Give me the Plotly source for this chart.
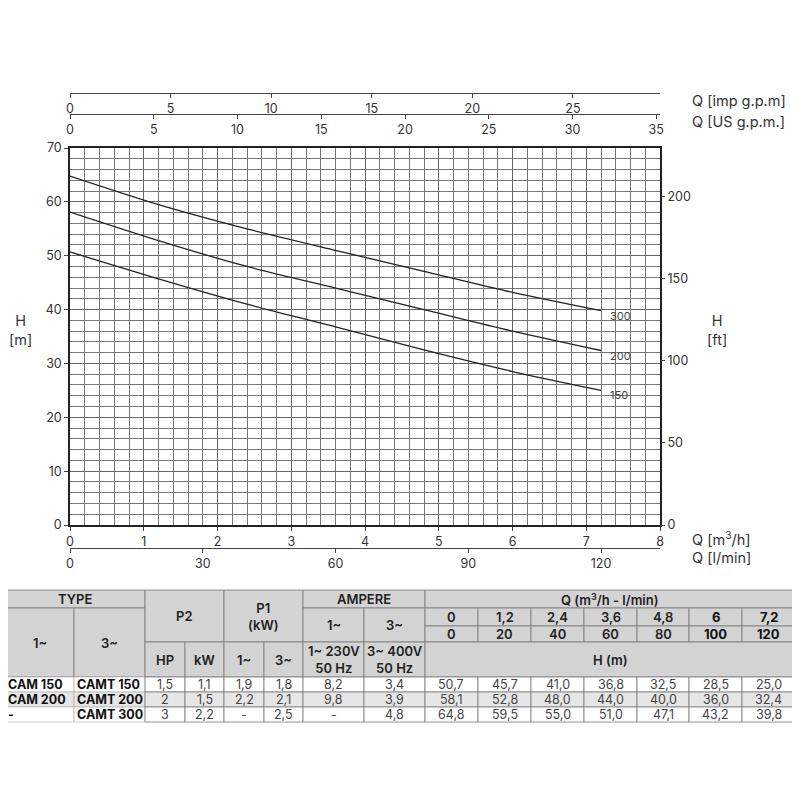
import plotly.graph_objects as go

# ---------------- data ----------------
q_m3h = [0, 1.2, 2.4, 3.6, 4.8, 6, 7.2]
q_lmin = [0, 20, 40, 60, 80, 100, 120]
q_m3h_labels = ["0", "1,2", "2,4", "3,6", "4,8", "6", "7,2"]
q_lmin_labels = ["0", "20", "40", "60", "80", "100", "120"]
h_150 = [50.7, 45.7, 41.0, 36.8, 32.5, 28.5, 25.0]
h_200 = [58.1, 52.8, 48.0, 44.0, 40.0, 36.0, 32.4]
h_300 = [64.8, 59.5, 55.0, 51.0, 47.1, 43.2, 39.8]
curve_names = ["150", "200", "300"]

type_1ph = ["CAM 150", "CAM 200", "-"]
type_3ph = ["CAMT 150", "CAMT 200", "CAMT 300"]
p2_hp = ["1,5", "2", "3"]
p2_kw = ["1,1", "1,5", "2,2"]
p1_1ph = ["1,9", "2,2", "-"]
p1_3ph = ["1,8", "2,1", "2,5"]
amp_1ph = ["8,2", "9,8", "-"]
amp_3ph = ["3,4", "3,9", "4,8"]

imp_ticks = [0, 5, 10, 15, 20, 25]
us_ticks = [0, 5, 10, 15, 20, 25, 30, 35]
lmin_ticks = [0, 30, 60, 90, 120]
ft_ticks = [0, 50, 100, 150, 200]

M3H_MAX = 8
H_MAX = 70
IMP_PER_M3H = 1000 / 60 / 4.54609
US_PER_M3H = 1000 / 60 / 3.785411784
LMIN_PER_M3H = 1000 / 60
FT_PER_M = 3.28084

W = H = 800
OFF = 8  # page body margin
FONT = "Inter, Liberation Sans, Arial, sans-serif"
TXT = "#333333"


def px(x):
    return (x - OFF) / W


def py(y):
    return 1 - (y - OFF) / H


fig = go.Figure()

series = [h_150, h_200, h_300]
for name, hv in zip(curve_names, series):
    fig.add_trace(go.Scatter(x=q_m3h, y=hv, mode="lines",
                             line=dict(color="#222222", width=1.3, shape="spline", smoothing=0.8),
                             showlegend=False, hoverinfo="skip", xaxis="x", yaxis="y"))
    fig.add_annotation(x=q_m3h[-1], y=hv[-1], xref="x", yref="y", text=name, showarrow=False,
                       xanchor="left", yanchor="middle", xshift=7, yshift=-5,
                       font=dict(family=FONT, size=11, color="#444"))

# invisible traces to activate secondary axes
for xa, ya in [("x2", "y"), ("x3", "y"), ("x4", "y"), ("x", "y2")]:
    fig.add_trace(go.Scatter(x=[0], y=[0], xaxis=xa, yaxis=ya, mode="markers", marker=dict(opacity=0),
                             showlegend=False, hoverinfo="skip"))

tickfont = dict(family=FONT, size=12.5, color=TXT)
dom_x = [px(70), px(660)]
dom_y = [py(525), py(148)]

common_free = dict(showgrid=False, zeroline=False, showline=True, linecolor="#444", linewidth=1.2,
                   ticks="outside", ticklen=4, tickcolor="#444", tickfont=tickfont, automargin=False)

fig.update_layout(
    width=W, height=H, margin=dict(l=0, r=0, t=0, b=0),
    paper_bgcolor="white", plot_bgcolor="white", template="none",
    xaxis=dict(domain=dom_x, range=[0, M3H_MAX], dtick=1, tick0=0, showgrid=True, gridcolor="#666", gridwidth=0.8,
               minor=dict(dtick=0.2, showgrid=True, gridcolor="#777", gridwidth=0.7),
               showline=True, linecolor="#222", linewidth=1.5, mirror=True, ticks="outside", ticklen=4,
               tickcolor="#444", tickfont=tickfont, zeroline=False, automargin=False, anchor="y"),
    yaxis=dict(domain=dom_y, range=[0, H_MAX], dtick=10, tick0=0, showgrid=True, gridcolor="#666", gridwidth=0.8,
               minor=dict(dtick=2, showgrid=True, gridcolor="#777", gridwidth=0.7),
               showline=True, linecolor="#222", linewidth=1.5, mirror=True, ticks="outside", ticklen=4,
               tickcolor="#444", tickfont=tickfont, zeroline=False, automargin=False, anchor="x"),
    xaxis2=dict(overlaying="x", anchor="free", position=py(93), side="bottom",
                range=[0, M3H_MAX * IMP_PER_M3H], tickvals=imp_ticks, **common_free),
    xaxis3=dict(overlaying="x", anchor="free", position=py(114), side="bottom",
                range=[0, M3H_MAX * US_PER_M3H], tickvals=us_ticks, **common_free),
    xaxis4=dict(overlaying="x", anchor="free", position=py(548), side="bottom",
                range=[0, M3H_MAX * LMIN_PER_M3H], tickvals=lmin_ticks, **common_free),
    yaxis2=dict(overlaying="y", side="right", anchor="x", range=[0, H_MAX * FT_PER_M], tickvals=ft_ticks,
                showgrid=False, zeroline=False, showline=False, ticks="outside", ticklen=4, tickcolor="#444",
                tickfont=tickfont, automargin=False),
)

lab = dict(family=FONT, size=14.5, color=TXT)


def ann(x, y, text, font=lab, xanchor="left", yanchor="middle", align="left"):
    fig.add_annotation(x=px(x), y=py(y), xref="paper", yref="paper", text=text, showarrow=False,
                       xanchor=xanchor, yanchor=yanchor, align=align, font=font)


ann(690, 101, "Q [imp g.p.m]")
ann(690, 122, "Q [US g.p.m.]")
ann(690, 538, "Q [m<sup>3</sup>/h]")
ann(690, 557, "Q [l/min]")
ann(20, 330, "H<br>[m]", xanchor="center", align="center")
ann(717, 330, "H<br>[ft]", xanchor="center", align="center")

# ---------------- table ----------------
GREY = "#d3d3d3"
LIGHT = "#e6e6e6"
BORDER = "#7a7a7a"
hfont = dict(family=FONT, size=13, color="#222", weight=600)
qbold = dict(family=FONT, size=13, color="#111", weight=700)
bfont = dict(family=FONT, size=12.5, color="#111", weight=700)
vfont = dict(family=FONT, size=12.5, color="#444")


def cell(x0, x1, y0, y1, text="", fill=GREY, font=hfont):
    fig.add_shape(type="rect", xref="paper", yref="paper", x0=px(x0), x1=px(x1), y0=py(y1), y1=py(y0),
                  fillcolor=fill, line=dict(color=BORDER, width=0.8), layer="below")
    if text:
        fig.add_annotation(x=px((x0 + x1) / 2), y=py((y0 + y1) / 2), xref="paper", yref="paper", text=text,
                           showarrow=False, xanchor="center", yanchor="middle", align="center", font=font)


def lcell(x0, x1, y0, y1, text, fill, font):
    fig.add_shape(type="rect", xref="paper", yref="paper", x0=px(x0), x1=px(x1), y0=py(y1), y1=py(y0),
                  fillcolor=fill, line=dict(color="#aaaaaa", width=0.6), layer="below")
    fig.add_annotation(x=px(x0 + 1), y=py((y0 + y1) / 2), xref="paper", yref="paper", text=text,
                       showarrow=False, xanchor="left", yanchor="middle", font=font)


cx = [5, 74, 145, 185, 224, 264, 303, 364, 425, 478, 531, 584, 637, 689, 742, 795]
ry = [590, 608, 626, 642, 677, 692, 707, 722]

cell(cx[0], cx[2], ry[0], ry[1], "TYPE")
cell(cx[0], cx[1], ry[1], ry[4], "1~")
cell(cx[1], cx[2], ry[1], ry[4], "3~")
cell(cx[2], cx[4], ry[0], ry[3], "P2")
cell(cx[2], cx[3], ry[3], ry[4], "HP")
cell(cx[3], cx[4], ry[3], ry[4], "kW")
cell(cx[4], cx[6], ry[0], ry[3], "P1<br>(kW)")
cell(cx[4], cx[5], ry[3], ry[4], "1~")
cell(cx[5], cx[6], ry[3], ry[4], "3~")
cell(cx[6], cx[8], ry[0], ry[1], "AMPERE")
cell(cx[6], cx[7], ry[1], ry[3], "1~")
cell(cx[7], cx[8], ry[1], ry[3], "3~")
cell(cx[6], cx[7], ry[3], ry[4], "1~ 230V<br>50 Hz")
cell(cx[7], cx[8], ry[3], ry[4], "3~ 400V<br>50 Hz")
cell(cx[8], cx[15], ry[0], ry[1], "Q (m<sup>3</sup>/h - l/min)")
for i in range(7):
    f = qbold if i >= 5 else hfont
    cell(cx[8 + i], cx[9 + i], ry[1], ry[2], q_m3h_labels[i], font=f)
    cell(cx[8 + i], cx[9 + i], ry[2], ry[3], q_lmin_labels[i], font=f)
cell(cx[8], cx[15], ry[3], ry[4], "H (m)")

fills = ["white", LIGHT, "white"]
for r in range(3):
    y0, y1 = ry[4 + r], ry[5 + r]
    fl = fills[r]
    lcell(cx[0], cx[1], y0, y1, type_1ph[r], fl, bfont)
    lcell(cx[1], cx[2], y0, y1, type_3ph[r], fl, bfont)
    vals = [p2_hp[r], p2_kw[r], p1_1ph[r], p1_3ph[r], amp_1ph[r], amp_3ph[r]]
    for j, v in enumerate(vals):
        cell(cx[2 + j], cx[3 + j], y0, y1, v, fill=fl, font=vfont)
    hrow = series[r]
    for j in range(7):
        cell(cx[8 + j], cx[9 + j], y0, y1, f"{hrow[j]:.1f}".replace(".", ","), fill=fl, font=vfont)

fig.write_html("out.html")
